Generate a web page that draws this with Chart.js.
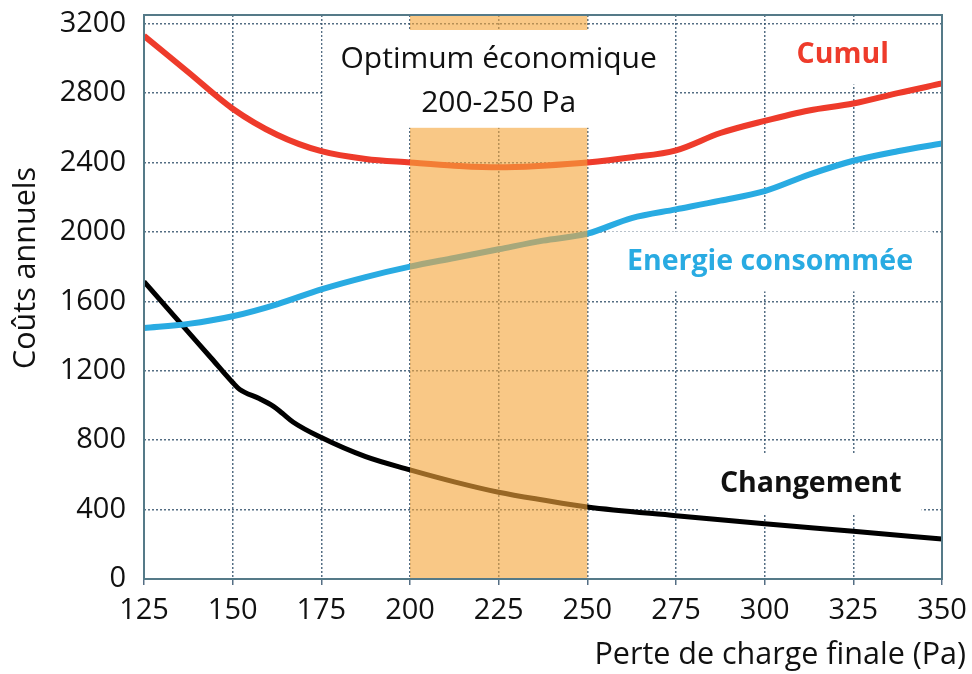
<!DOCTYPE html>
<html lang="fr">
<head>
    <meta charset="UTF-8">
    <title>Coûts annuels</title>
    <script src="https://cdn.jsdelivr.net/npm/chart.js@4.4.3/dist/chart.umd.min.js"></script>
    <style>
        * {
            margin: 0;
            padding: 0;
        }
        body {
            background: #fff;
        }
        .chartBox {
            width: 972px;
            height: 674px;
        }
    </style>
</head>
<body>
<div class="chartBox">
    <canvas id="myChart"></canvas>
</div>
<script>
    // x values (Pa) and series
    const pressure = [125, 137.5, 150, 162.5, 175, 187.5, 200, 212.5, 225, 237.5, 250, 262.5, 275, 287.5, 300, 312.5, 325, 337.5, 350];
    const cumul = [3130, 2920, 2710, 2560, 2465, 2420, 2400, 2382, 2372, 2382, 2400, 2430, 2470, 2570, 2640, 2700, 2740, 2800, 2855];
    const energie = [1446, 1470, 1514, 1583, 1669, 1740, 1800, 1850, 1900, 1950, 1990, 2080, 2130, 2180, 2235, 2330, 2410, 2465, 2510];

    const changeX = [125, 131, 137.5, 144, 150, 152, 157.5, 161.5, 164, 167, 175, 187.5, 200, 212.5, 225, 237.5, 250, 275, 300, 325, 350];
    const changement = [1714, 1574, 1423, 1272, 1132, 1092, 1040, 995, 955, 905, 815, 705, 629, 560, 500, 455, 415, 365, 318, 275, 230];

    const xTicks = [125, 150, 175, 200, 225, 250, 275, 300, 325, 350];
    const yTicks = [0, 400, 800, 1200, 1600, 2000, 2400, 2800, 3200];

    const FONT = '"Open Sans", sans-serif';
    const gridColor = 'rgba(55,85,110,0.85)';

    const toPoints = (xs, ys) => xs.map((v, i) => ({ x: v, y: ys[i] }));

    const overlay = {
        id: 'overlay',
        afterDatasetsDraw(chart) {
            const { ctx, chartArea: a, scales: { x, y } } = chart;
            ctx.save();

            // zone optimum 200-250 Pa
            const x0 = x.getPixelForValue(200), x1 = x.getPixelForValue(250);
            ctx.fillStyle = 'rgba(246,166,60,0.62)';
            ctx.fillRect(x0, a.top, x1 - x0, y.getPixelForValue(0) - a.top);

            // white box with the optimum text
            const cx = x.getPixelForValue(225);
            const boxTop = a.top + 15, boxBottom = y.getPixelForValue(2600);
            ctx.fillStyle = '#fff';
            ctx.fillRect(cx - 176, boxTop, 352, boxBottom - boxTop);
            ctx.fillStyle = '#111';
            ctx.font = '30px ' + FONT;
            ctx.textAlign = 'center';
            ctx.textBaseline = 'middle';
            ctx.fillText('Optimum économique', cx, y.getPixelForValue(2992));
            ctx.fillText('200-250 Pa', cx, y.getPixelForValue(2740));

            // series labels
            const labels = [
                { text: 'Cumul', color: '#ee3b2b', x: 322, y: 3022 },
                { text: 'Energie consommée', color: '#29abe2', x: 301.5, y: 1830 },
                { text: 'Changement', color: '#111', x: 313, y: 547 }
            ];
            ctx.font = 'bold 28.5px ' + FONT;
            labels.forEach(l => {
                const px = x.getPixelForValue(l.x), py = y.getPixelForValue(l.y);
                const w = ctx.measureText(l.text).width + 40;
                ctx.fillStyle = '#fff';
                ctx.fillRect(px - w / 2, py - 30, w, 60);
                ctx.fillStyle = l.color;
                ctx.fillText(l.text, px, py);
            });

            // plot border
            ctx.strokeStyle = '#557a88';
            ctx.lineWidth = 2;
            ctx.strokeRect(a.left, a.top, a.width, a.height);

            ctx.restore();
        },
        afterDraw(chart) {
            const { ctx } = chart;
            ctx.save();
            ctx.fillStyle = '#111';
            ctx.font = '30.5px ' + FONT;
            ctx.textBaseline = 'middle';
            ctx.textAlign = 'right';
            ctx.fillText('Perte de charge finale (Pa)', 966, 655);
            ctx.translate(26, 268);
            ctx.rotate(-Math.PI / 2);
            ctx.textAlign = 'center';
            ctx.fillText('Coûts annuels', 0, 0);
            ctx.restore();
        }
    };

    const config = {
        type: 'line',
        data: {
            datasets: [{
                label: 'Cumul',
                data: toPoints(pressure, cumul),
                borderColor: '#ee3b2b',
                borderWidth: 6,
                pointRadius: 0,
                cubicInterpolationMode: 'monotone'
            }, {
                label: 'Energie consommée',
                data: toPoints(pressure, energie),
                borderColor: '#29abe2',
                borderWidth: 6,
                pointRadius: 0,
                cubicInterpolationMode: 'monotone'
            }, {
                label: 'Changement',
                data: toPoints(changeX, changement),
                borderColor: '#000',
                borderWidth: 5,
                pointRadius: 0,
                cubicInterpolationMode: 'monotone'
            }]
        },
        options: {
            responsive: true,
            maintainAspectRatio: false,
            animation: false,
            layout: { padding: { top: 15, right: 30, left: 0, bottom: 0 } },
            plugins: {
                legend: { display: false },
                tooltip: { enabled: false }
            },
            scales: {
                x: {
                    type: 'linear',
                    min: 125,
                    max: 350,
                    afterBuildTicks: s => { s.ticks = xTicks.map(v => ({ value: v })); },
                    afterFit: s => { s.height = 95; s.paddingLeft = 0; s.paddingRight = 0; },
                    grid: {
                        color: gridColor,
                        lineWidth: 1.5,
                        tickLength: 6,
                        tickColor: gridColor
                    },
                    border: { display: false, dash: [2, 2] },
                    ticks: {
                        color: '#111',
                        padding: 8,
                        maxRotation: 0,
                        callback: v => String(v),
                        font: { family: FONT, size: 29 }
                    }
                },
                y: {
                    min: 0,
                    max: 3250,
                    afterBuildTicks: s => { s.ticks = yTicks.map(v => ({ value: v })); },
                    afterFit: s => { s.width = 144; s.paddingTop = 0; s.paddingBottom = 0; },
                    grid: {
                        color: gridColor,
                        lineWidth: 1.5,
                        drawTicks: false
                    },
                    border: { display: false, dash: [2, 2] },
                    ticks: {
                        color: '#111',
                        padding: 18,
                        callback: v => String(v),
                        font: { family: FONT, size: 29 }
                    }
                }
            }
        },
        plugins: [overlay]
    };

    new Chart(document.getElementById('myChart'), config);
</script>
</body>
</html>
